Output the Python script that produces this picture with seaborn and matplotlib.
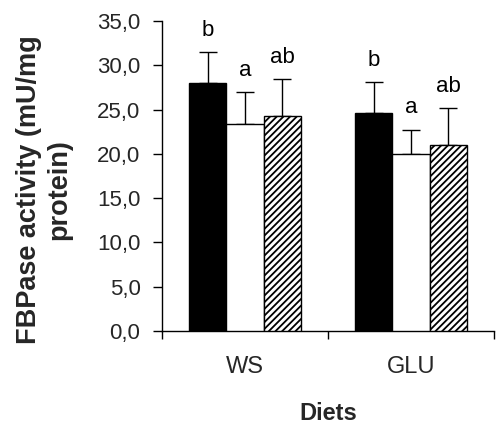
import matplotlib
matplotlib.use("Agg")
import matplotlib.pyplot as plt
import seaborn as sns
import pandas as pd
import numpy as np
from matplotlib.ticker import FixedLocator, FuncFormatter

diets = ["WS", "GLU"]
groups = ["Group 1", "Group 2", "Group 3"]
means_g1 = [28.0, 24.6]
means_g2 = [23.4, 20.0]
means_g3 = [24.3, 21.0]
errs_g1 = [3.5, 3.5]
errs_g2 = [3.6, 2.75]
errs_g3 = [4.1, 4.2]
letters_g1 = ["b", "b"]
letters_g2 = ["a", "a"]
letters_g3 = ["ab", "ab"]
yticks = [0, 5, 10, 15, 20, 25, 30, 35]

sns.set_theme(style="white")
plt.rcParams["font.family"] = ["Liberation Sans", "DejaVu Sans"]
plt.rcParams["hatch.linewidth"] = 1.3

rows = []
for g, m, e, l in [(groups[0], means_g1, errs_g1, letters_g1),
                   (groups[1], means_g2, errs_g2, letters_g2),
                   (groups[2], means_g3, errs_g3, letters_g3)]:
    for d, mv, ev, lv in zip(diets, m, e, l):
        rows.append({"diet": d, "group": g, "value": mv, "err": ev, "letter": lv})
df = pd.DataFrame(rows)

fig = plt.figure(figsize=(4.97, 4.3), dpi=100)
ax = fig.add_axes([162/497, 1-331/430, 332/497, 310/430])

sns.barplot(data=df, x="diet", y="value", hue="group", order=diets, hue_order=groups,
            palette=["black", "white", "white"], edgecolor="black", linewidth=1.0,
            width=0.67, gap=0, errorbar=None, legend=False, ax=ax, zorder=3)

patches = sorted([p for p in ax.patches], key=lambda p: p.get_x())
order_keys = [(d, g) for d in diets for g in groups]
lookup = {(r.diet, r.group): r for r in df.itertuples()}
xs, ys, es = [], [], []
for p, key in zip(patches, order_keys):
    r = lookup[key]
    if key[1] == groups[2]:
        p.set_hatch("/////")
    xc = p.get_x() + p.get_width() / 2
    xs.append(xc); ys.append(r.value); es.append(r.err)
    ax.annotate(r.letter, (xc, r.value + r.err), xytext=(0, 8), textcoords="offset points",
                ha="center", va="bottom", fontsize=16, color="black")

ax.errorbar(xs, ys, yerr=[np.zeros(len(es)), es], fmt="none", ecolor="black",
            elinewidth=1.0, capsize=6.5, capthick=1.0, zorder=2)

ax.set_ylim(0, 35)
ax.set_xlim(-0.5, 1.5)
ax.yaxis.set_major_locator(FixedLocator(yticks))
ax.yaxis.set_major_formatter(FuncFormatter(lambda v, pos: f"{v:.1f}".replace(".", ",")))
ax.tick_params(axis="y", which="major", direction="out", length=6.5, width=1.0,
               color="black", labelsize=16, pad=9, left=True)
ax.set_xticks([0, 1])
ax.set_xticklabels(diets)
ax.tick_params(axis="x", which="major", length=0, labelsize=17, pad=18)
ax.xaxis.set_minor_locator(FixedLocator([-0.5, 0.5, 1.5]))
ax.tick_params(axis="x", which="minor", direction="out", length=6, width=1.0,
               color="black", bottom=True)

for s in ["top", "right"]:
    ax.spines[s].set_visible(False)
for s in ["left", "bottom"]:
    ax.spines[s].set_color("black")
    ax.spines[s].set_linewidth(1.0)

ax.set_xlabel("Diets", fontsize=17, fontweight="bold", labelpad=17)
ax.set_ylabel("FBPase activity (mU/mg\nprotein)", fontsize=19.5, fontweight="bold",
              multialignment="center")
ax.yaxis.set_label_coords(-0.271, 0.455)

fig.savefig("out.png", dpi=100)
